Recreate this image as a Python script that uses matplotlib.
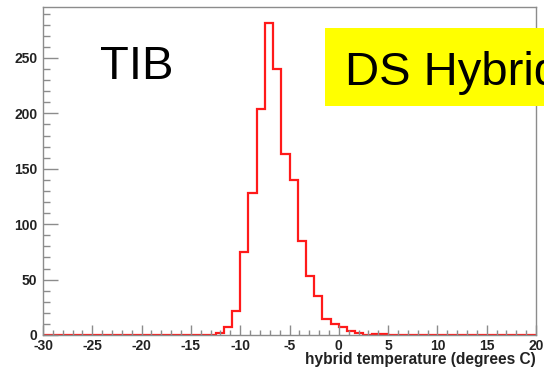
import matplotlib
matplotlib.use('Agg')
import matplotlib.pyplot as plt
from matplotlib.patches import Rectangle
from matplotlib.ticker import MultipleLocator

plt.rcParams['axes.unicode_minus'] = False

# histogram: 60 bins from -30 to 20 degrees
x_lo = -30
x_hi = 20
n_bins = 60
counts = [0, 0, 0, 0, 0, 0, 0, 0, 0, 0,
          0, 0, 0, 0, 0, 0, 0, 0, 0, 0,
          0, 2, 7, 22, 75, 128, 204, 282, 240, 163,
          140, 85, 53, 35, 14, 10, 7, 4, 2, 0,
          1, 1, 0, 0, 0, 0, 0, 0, 0, 0,
          0, 0, 0, 0, 0, 0, 0, 0, 0, 0]
x_ticks = [-30, -25, -20, -15, -10, -5, 0, 5, 10, 15, 20]
y_ticks = [0, 50, 100, 150, 200, 250]
y_top = 296

W, H = 544, 372
fig = plt.figure(figsize=(W / 100, H / 100), dpi=100)
ax = fig.add_axes([43 / W, 37 / H, 493 / W, 328 / H])

width = (x_hi - x_lo) / n_bins
edges = [x_lo + i * width for i in range(n_bins + 1)]
ax.stairs(counts, edges, color='#ff1a1a', lw=1.6)

ax.set_xlim(x_lo, x_hi)
ax.set_ylim(0, y_top)
ax.set_xticks(x_ticks)
ax.set_yticks(y_ticks)
ax.xaxis.set_minor_locator(MultipleLocator(1))
ax.yaxis.set_minor_locator(MultipleLocator(10))

grey = '#8c8c8c'
for s in ax.spines.values():
    s.set_color(grey)
    s.set_linewidth(1.0)
ax.tick_params(axis='both', which='both', direction='in', color=grey, width=1.0)
ax.tick_params(axis='x', which='major', length=7.1, pad=3)
ax.tick_params(axis='x', which='minor', length=3.5)
ax.tick_params(axis='y', which='major', length=10.6, pad=4)
ax.tick_params(axis='y', which='minor', length=5.3)
for lab in ax.get_xticklabels() + ax.get_yticklabels():
    lab.set_fontfamily('Liberation Sans')
    lab.set_fontweight('bold')
    lab.set_fontsize(10)
    lab.set_color('#222222')

ax.set_xlabel('hybrid temperature (degrees C)', fontfamily='Liberation Sans',
              fontweight='bold', fontsize=11.2, color='#222222', loc='right', labelpad=-1)

fig.text(100 / W, 1 - 79 / H, 'TIB', fontfamily='Liberation Sans', fontsize=34,
         color='black', ha='left', va='baseline')

fig.patches.append(Rectangle((325 / W, 1 - 106 / H), 240 / W, 78 / H,
                             transform=fig.transFigure, facecolor='#ffff00',
                             edgecolor='none', zorder=5))
fig.text(345 / W, 1 - 85 / H, 'DS Hybrid', fontfamily='Liberation Sans', fontsize=34,
         color='black', ha='left', va='baseline', zorder=6)

fig.savefig('out.png', dpi=100)
